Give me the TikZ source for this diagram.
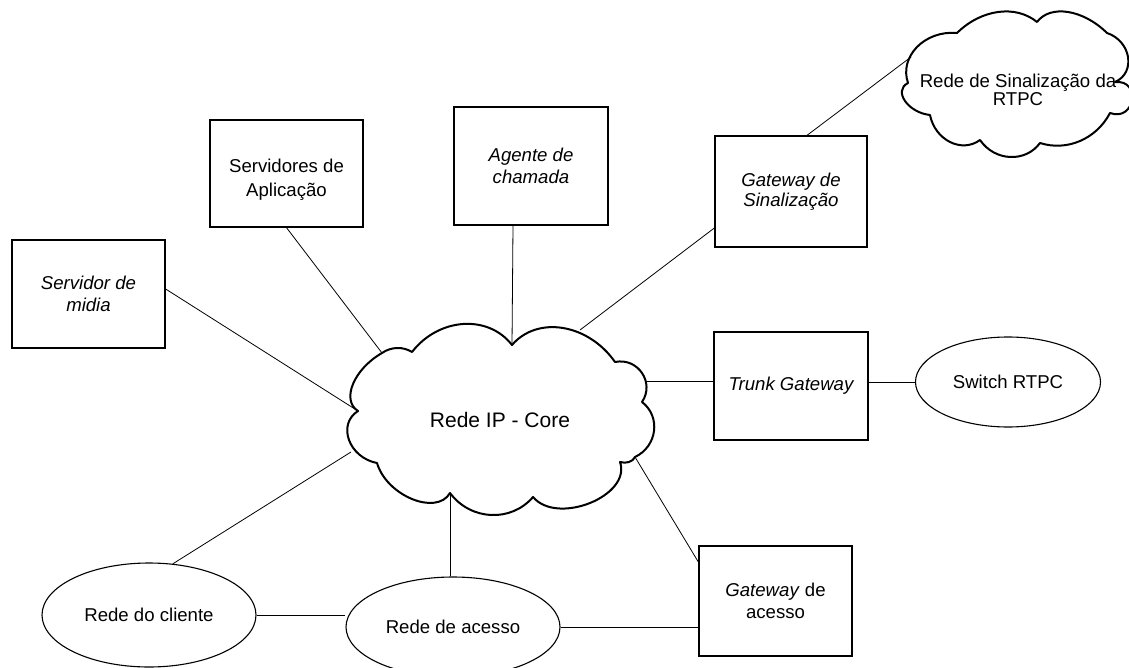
\documentclass[tikz,border=0pt]{standalone}
\usepackage{fontspec}
\setmainfont{Liberation Sans}
\usetikzlibrary{shapes.geometric,calc}
% builds a cloud outline out of round bumps: A=(#1,#2), apex=(#3,#4), B=(#5,#6), extra roundness #7
\newcommand\cbump[7]{%
  \pgfmathsetmacro\cbMx{(#1+#5)/2}%
  \pgfmathsetmacro\cbMy{(#2+#6)/2}%
  \pgfmathsetmacro\cbHx{#3-\cbMx}%
  \pgfmathsetmacro\cbHy{#4-\cbMy}%
  \pgfmathsetmacro\cbF{(4*((\cbHx/10)^2+(\cbHy/10)^2)/(((#5-#1)/10)^2+((#6-#2)/10)^2)-1)/3+(#7)}%
  \pgfmathsetmacro\cbA{#1+4/3*(\cbHx)-(\cbF)*(#5-#1)}%
  \pgfmathsetmacro\cbB{#2+4/3*(\cbHy)-(\cbF)*(#6-#2)}%
  \pgfmathsetmacro\cbC{#5+4/3*(\cbHx)+(\cbF)*(#5-#1)}%
  \pgfmathsetmacro\cbD{#6+4/3*(\cbHy)+(\cbF)*(#6-#2)}%
  \xdef\cbPath{\cbPath .. controls (\cbA,\cbB) and (\cbC,\cbD) .. (#5,#6)}}
\begin{document}
\begin{tikzpicture}[x=1pt,y=-1pt,
  every node/.style={font=\fontsize{18.6}{21.5}\selectfont, align=center},
  boxnode/.style={draw, line width=1.3pt, rectangle, inner sep=0pt},
  ellnode/.style={draw, line width=1.1pt, ellipse, inner sep=0pt},
  cloudline/.style={draw, line width=2pt, line join=round, fill=white},
  link/.style={line width=0.8pt}]
\useasboundingbox (0,0) rectangle (1129,668);

% core cloud outline
\gdef\cbPath{}
\cbump{512}{345}{563}{328}{615}{362}{0}
\cbump{615}{362}{642}{373}{642}{402}{0}
\cbump{642}{402}{654}{431}{635}{457}{0}
\cbump{635}{457}{629}{462}{620}{462}{0}
\cbump{620}{462}{590}{503}{533}{497}{0.15}
\cbump{533}{497}{491}{515}{450}{493}{0}
\cbump{450}{493}{412}{499}{377}{463}{0.08}
\cbump{377}{463}{349}{440}{358}{411}{0}
\cbump{358}{411}{353}{384}{382}{353}{0}
\cbump{382}{353}{397}{348}{412}{352}{0}
\cbump{412}{352}{463}{324}{512}{345}{0}
\edef\cbDraw{\noexpand\path[cloudline] (512,345) \cbPath -- cycle;}
\cbDraw

% RTPC cloud outline
\gdef\cbPath{}
\cbump{908}{83}{917}{47}{957}{33}{0}
\cbump{957}{33}{998}{12}{1037}{22}{0}
\cbump{1037}{22}{1068}{12}{1107}{33}{0}
\cbump{1107}{33}{1128}{57}{1115}{82}{0}
\cbump{1115}{82}{1132}{100}{1110}{113}{0}
\cbump{1110}{113}{1080}{141}{1040}{143}{0}
\cbump{1040}{143}{1010}{157}{980}{140}{0}
\cbump{980}{140}{950}{142}{930}{115}{0}
\cbump{930}{115}{905}{101}{908}{83}{0}
\edef\cbDraw{\noexpand\path[cloudline] (908,83) \cbPath -- cycle;}
\cbDraw

% cloud texts
\node[font=\fontsize{21}{24}\selectfont] (core) at (500,420) {Rede IP - Core};
\node (rtpc) at (1018,90) {Rede de Sinalização da\\[-3pt]RTPC};

% boxes
\node[boxnode, minimum width=153pt, minimum height=108pt] (midia) at (88.5,294) {\itshape Servidor de\\\itshape midia};
\node[boxnode, minimum width=153pt, minimum height=107pt] (srv) at (286.5,173.5) {};
\node (srvt) at (286.5,180) {Servidores de\\[2.5pt]Aplicação};
\node[boxnode, minimum width=154pt, minimum height=118pt] (ag) at (531,166) {\itshape Agente de\\\itshape chamada};
\node[boxnode, minimum width=152pt, minimum height=111pt] (gs) at (791,191.5) {\itshape Gateway de\\[-2pt]\itshape Sinalização};
\node[boxnode, minimum width=154pt, minimum height=108pt] (tg) at (791,386) {\itshape Trunk Gateway};
\node[boxnode, minimum width=153pt, minimum height=110pt] (ga) at (775.5,601) {\textit{Gateway} de\\acesso};

% ellipses
\node[ellnode, minimum width=185pt, minimum height=90pt] (sw) at (1008,382) {Switch RTPC};
\node[ellnode, minimum width=214pt, minimum height=104pt] (cl) at (149,615) {Rede do cliente};
\node[ellnode, minimum width=214pt, minimum height=100pt] (ac) at (453,627) {Rede de acesso};

% points on cloud borders
\coordinate (cMid) at (358,411);
\coordinate (cSrv) at (382,353);
\coordinate (cAg) at (512,345);
\coordinate (cGs) at (580,330);
\coordinate (cTg) at (645,381);
\coordinate (cGa) at (635,457);
\coordinate (cAc) at (450,494);
\coordinate (cCl) at (351,452);
\coordinate (rIn) at (911,57);

% connectors
\draw[link] ([yshift=5pt]midia.east) -- (cMid);
\draw[link] (srv.south) -- (cSrv);
\draw[link] ([xshift=-18pt]ag.south) -- (cAg);
\draw[link] ([yshift=-36.5pt]gs.west) -- (cGs);
\draw[link] ([xshift=16pt]gs.north) -- (rIn);
\draw[link] (cTg) -- (cTg -| tg.west);
\draw[link] (sw.west -| tg.east) -- (sw.west);
\draw[link] (cGa) -- ([yshift=39pt]ga.west);
\draw[link] (ac.east) -- (ac.east -| ga.west);
\draw[link] (cl.65) -- (cCl);
\draw[link] (cl.east) -- (cl.east -| ac.west);
\draw[link] ([xshift=-3pt]ac.north) -- (cAc);
\end{tikzpicture}
\end{document}
